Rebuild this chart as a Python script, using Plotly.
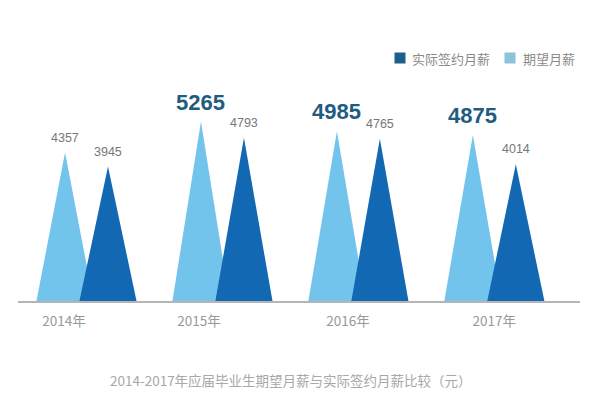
import plotly.graph_objects as go

years = ["2014年", "2015年", "2016年", "2017年"]
expected = [4357, 5265, 4985, 4875]   # 期望月薪
actual = [3945, 4793, 4765, 4014]     # 实际签约月薪
highlight = [False, True, True, True]
tick_pos = [-0.165, 0.827, 1.923, 3.0]
series_names = ["实际签约月薪", "期望月薪"]

LIGHT = "#72c4ec"
DARK = "#1268b3"
HALF = 0.21
OFF = 0.158
FONT = "Noto Sans CJK SC"

L, R, T, B, W, H = 18, 35, 40, 96, 615, 397
PW, PH = W - L - R, H - T - B

def px(xp):
    return (xp - L) / PW

def py(yp):
    return (H - B - yp) / PH

fig = go.Figure()

def tri(i, off, v, color, name):
    c = i + off
    return go.Scatter(
        x=[c - HALF, c, c + HALF, c - HALF], y=[0, v, 0, 0],
        mode="lines", fill="toself", fillcolor=color,
        line=dict(width=0, color=color), name=name,
        showlegend=False, hoverinfo="skip")

for i, v in enumerate(expected):
    fig.add_trace(tri(i, -OFF, v, LIGHT, series_names[1]))
for i, v in enumerate(actual):
    fig.add_trace(tri(i, OFF, v, DARK, series_names[0]))

for i, v in enumerate(expected):
    if highlight[i]:
        fig.add_annotation(x=i - OFF, y=v, text="<b>%d</b>" % v, showarrow=False,
                           yanchor="bottom", yshift=5,
                           font=dict(family="Arial", size=22, color="#1f5c80"))
    else:
        fig.add_annotation(x=i - OFF, y=v, text=str(v), showarrow=False,
                           yanchor="bottom", yshift=6,
                           font=dict(family="Arial", size=12.5, color="#777777"))
for i, v in enumerate(actual):
    fig.add_annotation(x=i + OFF, y=v, text=str(v), showarrow=False,
                       yanchor="bottom", yshift=6,
                       font=dict(family="Arial", size=12.5, color="#777777"))

legend_items = [(400, 410, "#1d5f8c", series_names[0]),
                (510, 521, "#8cc3dc", series_names[1])]
for sq_x, tx, col, name in legend_items:
    fig.add_shape(type="rect", xref="paper", yref="paper",
                  x0=px(sq_x - 5.5), x1=px(sq_x + 5.5),
                  y0=py(58 + 5.5), y1=py(58 - 5.5),
                  fillcolor=col, line=dict(width=0))
    fig.add_annotation(text=name, xref="paper", yref="paper", x=px(tx), y=py(58),
                       xanchor="left", yanchor="middle", showarrow=False,
                       font=dict(family=FONT, size=13, color="#8a8a8a"))

fig.add_annotation(text="2014-2017年应届毕业生期望月薪与实际签约月薪比较（元）",
                   xref="paper", yref="paper", x=px(291), y=py(380),
                   yanchor="middle", showarrow=False,
                   font=dict(family=FONT, size=13.5, color="#a8a8a8"))

fig.update_layout(
    width=W, height=H,
    margin=dict(l=L, r=R, t=T, b=B),
    paper_bgcolor="white", plot_bgcolor="white",
    showlegend=False,
    xaxis=dict(range=[-0.504, 3.63], showgrid=False, zeroline=False,
               showline=True, linecolor="#b5b5b5", linewidth=2,
               tickmode="array", tickvals=tick_pos,
               ticktext=years, ticks="", ticklabelstandoff=7,
               tickfont=dict(family=FONT, size=13.5, color="#999999")),
    yaxis=dict(range=[0, 7660], visible=False, showgrid=False, zeroline=False),
)

fig.write_html("out.html")
